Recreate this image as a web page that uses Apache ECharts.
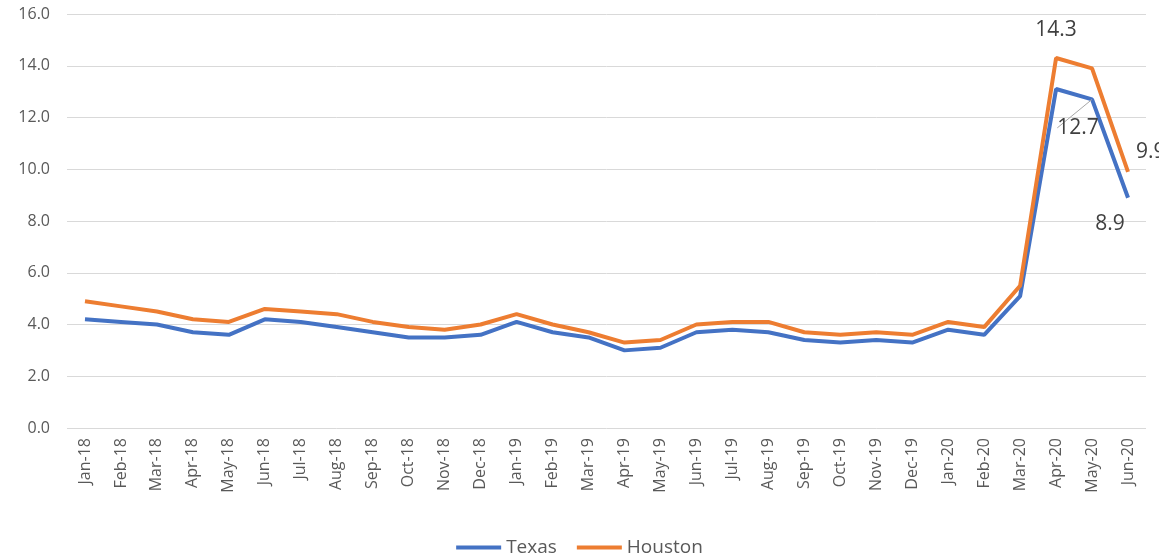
<!DOCTYPE html>
<html>
<head>
<meta charset="utf-8">
<style>
  html, body { margin: 0; padding: 0; background: #fff; }
  #chart { width: 1159px; height: 560px; }
</style>
<script src="https://cdn.jsdelivr.net/npm/echarts@6/dist/echarts.min.js"></script>
</head>
<body>
<div id="chart"></div>
<script>
const months = [
  'Jan-18', 'Feb-18', 'Mar-18', 'Apr-18', 'May-18', 'Jun-18', 'Jul-18', 'Aug-18', 'Sep-18', 'Oct-18', 'Nov-18', 'Dec-18',
  'Jan-19', 'Feb-19', 'Mar-19', 'Apr-19', 'May-19', 'Jun-19', 'Jul-19', 'Aug-19', 'Sep-19', 'Oct-19', 'Nov-19', 'Dec-19',
  'Jan-20', 'Feb-20', 'Mar-20', 'Apr-20', 'May-20', 'Jun-20',
]
const texas = [
  4.2, 4.1, 4.0, 3.7, 3.6, 4.2, 4.1, 3.9, 3.7, 3.5, 3.5, 3.6,
  4.1, 3.7, 3.5, 3.0, 3.1, 3.7, 3.8, 3.7, 3.4, 3.3, 3.4, 3.3,
  3.8, 3.6, 5.1, 13.1, 12.7, 8.9,
]
const houston = [
  4.9, 4.7, 4.5, 4.2, 4.1, 4.6, 4.5, 4.4, 4.1, 3.9, 3.8, 4.0,
  4.4, 4.0, 3.7, 3.3, 3.4, 4.0, 4.1, 4.1, 3.7, 3.6, 3.7, 3.6,
  4.1, 3.9, 5.5, 14.3, 13.9, 9.9,
]
// 标注的点
const texasLabeled = [28, 29]
const houstonLabeled = [27, 29]

const font = '"Open Sans", "Noto Sans", sans-serif'
const labelText = { color: '#404040', fontSize: 21, fontFamily: font }

const chart = echarts.init(document.getElementById('chart'))
chart.setOption({
  animation: false,
  textStyle: { fontFamily: font },
  grid: { top: 14, left: 67, right: 13, bottom: 132, outerBoundsMode: 'none' },
  legend: {
    top: 538,
    left: 'center',
    icon: 'rect',
    itemWidth: 45,
    itemHeight: 4,
    itemGap: 20,
    padding: 0,
    textStyle: { color: '#595959', fontSize: 19, fontFamily: font },
    data: ['Texas', 'Houston'],
  },
  xAxis: {
    type: 'category',
    data: months,
    boundaryGap: true,
    axisLine: { show: false },
    axisTick: { show: false },
    axisLabel: { rotate: 90, interval: 0, margin: 10, color: '#595959', fontSize: 16, fontFamily: font },
  },
  yAxis: {
    type: 'value',
    min: 0,
    max: 16,
    interval: 2,
    axisLine: { show: false },
    axisTick: { show: false },
    axisLabel: { margin: 17, color: '#595959', fontSize: 16, fontFamily: font, formatter: (v) => v.toFixed(1) },
    splitLine: { lineStyle: { color: '#d9d9d9', width: 1 } },
  },
  series: [
    {
      name: 'Texas',
      type: 'line',
      symbol: 'circle',
      symbolSize: 0,
      showSymbol: true,
      lineStyle: { color: '#4472C4', width: 4 },
      itemStyle: { color: '#4472C4' },
      data: texas.map((v, i) => {
        if (!texasLabeled.includes(i)) return v
        return {
          value: v,
          label: { show: true, position: 'bottom', distance: 6, ...labelText },
          labelLine: i === 28 ? { show: true, lineStyle: { color: '#a6a6a6', width: 1 } } : undefined,
        }
      }),
      labelLayout: (p) => {
        if (p.dataIndex === 28) return { dx: -14, dy: 12 }
        if (p.dataIndex === 29) return { dx: -18, dy: 10 }
        return {}
      },
    },
    {
      name: 'Houston',
      type: 'line',
      symbol: 'circle',
      symbolSize: 0,
      showSymbol: true,
      lineStyle: { color: '#ED7D31', width: 4 },
      itemStyle: { color: '#ED7D31' },
      data: houston.map((v, i) => {
        if (!houstonLabeled.includes(i)) return v
        return {
          value: v,
          label: i === 27
            ? { show: true, position: 'top', distance: 17, ...labelText }
            : { show: true, position: 'right', distance: 8, offset: [0, -20], ...labelText },
        }
      }),
    },
  ],
})
</script>
</body>
</html>
